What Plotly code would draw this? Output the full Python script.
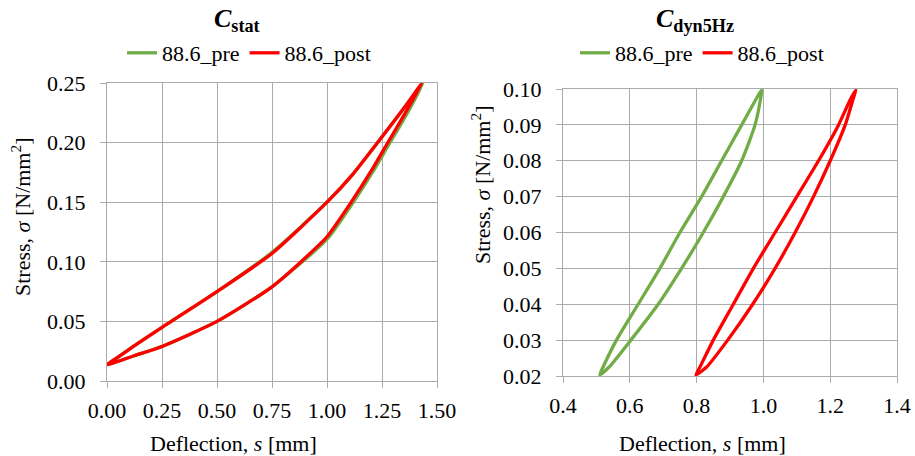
import plotly.graph_objects as go

# ---------------- data: C_stat (left panel) ----------------
stat_pre_low_s   = [0.0, 0.12, 0.25, 0.50, 0.75, 0.95, 1.01, 1.12, 1.21, 1.28, 1.36, 1.437]
stat_pre_low_sig = [0.0135, 0.021, 0.029, 0.050, 0.079, 0.110, 0.121, 0.150, 0.176, 0.198, 0.223, 0.250]
stat_pre_up_s    = [1.437, 1.35, 1.23, 1.12, 1.00, 0.75, 0.50, 0.25, 0.12, 0.05, 0.0]
stat_pre_up_sig  = [0.250, 0.229, 0.200, 0.174, 0.150, 0.108, 0.075, 0.045, 0.029, 0.020, 0.0135]
stat_post_low_s   = [0.0, 0.12, 0.25, 0.50, 0.75, 0.94, 1.00, 1.11, 1.20, 1.27, 1.35, 1.432]
stat_post_low_sig = [0.0135, 0.021, 0.029, 0.050, 0.079, 0.110, 0.121, 0.150, 0.176, 0.198, 0.223, 0.250]
stat_post_up_s    = [1.432, 1.35, 1.23, 1.12, 1.00, 0.75, 0.50, 0.25, 0.12, 0.05, 0.0]
stat_post_up_sig  = [0.250, 0.229, 0.200, 0.174, 0.150, 0.107, 0.075, 0.045, 0.029, 0.020, 0.0135]

# ---------------- data: C_dyn5Hz (right panel) ----------------
dyn_pre_right_s   = [0.51, 0.538, 0.603, 0.685, 0.755, 0.82, 0.88, 0.935, 0.975, 0.991, 0.995]
dyn_pre_right_sig = [0.0203, 0.0225, 0.03, 0.04, 0.05, 0.06, 0.07, 0.08, 0.09, 0.097, 0.0998]
dyn_pre_left_s    = [0.995, 0.977, 0.935, 0.875, 0.815, 0.75, 0.69, 0.625, 0.56, 0.52, 0.51]
dyn_pre_left_sig  = [0.0998, 0.097, 0.09, 0.08, 0.07, 0.06, 0.05, 0.04, 0.03, 0.0225, 0.0203]
dyn_post_right_s   = [0.798, 0.83, 0.893, 0.968, 1.035, 1.095, 1.15, 1.20, 1.245, 1.268, 1.277]
dyn_post_right_sig = [0.0203, 0.0225, 0.03, 0.04, 0.05, 0.06, 0.07, 0.08, 0.09, 0.097, 0.0998]
dyn_post_left_s    = [1.277, 1.26, 1.225, 1.165, 1.10, 1.035, 0.97, 0.91, 0.85, 0.81, 0.798]
dyn_post_left_sig  = [0.0998, 0.097, 0.09, 0.08, 0.07, 0.06, 0.05, 0.04, 0.03, 0.0225, 0.0203]

series_names = ["88.6_pre", "88.6_post"]
stat_x_ticks = [0.0, 0.25, 0.5, 0.75, 1.0, 1.25, 1.5]
dyn_x_ticks = [0.4, 0.6, 0.8, 1.0, 1.2, 1.4]

GREEN = "#70AD47"
RED = "#FF0000"
FONT = "Liberation Serif"
GRID = "#ABABAB"
W, H = 915, 456

fig = go.Figure()

def loop(s1, y1, s2, y2):
    return s1 + s2[1:], y1 + y2[1:]

LINE = dict(width=3.3, shape="spline", smoothing=0.6)

x, y = loop(stat_pre_low_s, stat_pre_low_sig, stat_pre_up_s, stat_pre_up_sig)
fig.add_trace(go.Scatter(x=x, y=y, mode="lines", name=series_names[0], xaxis="x", yaxis="y",
                         line=dict(color=GREEN, **LINE), legend="legend"))
x, y = loop(stat_post_low_s, stat_post_low_sig, stat_post_up_s, stat_post_up_sig)
fig.add_trace(go.Scatter(x=x, y=y, mode="lines", name=series_names[1], xaxis="x", yaxis="y",
                         line=dict(color=RED, **LINE), legend="legend"))
x, y = loop(dyn_pre_right_s, dyn_pre_right_sig, dyn_pre_left_s, dyn_pre_left_sig)
fig.add_trace(go.Scatter(x=x, y=y, mode="lines", name=series_names[0], xaxis="x2", yaxis="y2",
                         line=dict(color=GREEN, **LINE), legend="legend2"))
x, y = loop(dyn_post_right_s, dyn_post_right_sig, dyn_post_left_s, dyn_post_left_sig)
fig.add_trace(go.Scatter(x=x, y=y, mode="lines", name=series_names[1], xaxis="x2", yaxis="y2",
                         line=dict(color=RED, **LINE), legend="legend2"))

axis_common = dict(showgrid=True, gridcolor=GRID, gridwidth=1, showline=True, linecolor=GRID,
                   linewidth=1, mirror=True, ticks="outside", ticklen=6, tickcolor=GRID,
                   zeroline=False, tickfont=dict(family=FONT, size=22, color="black"))

fig.update_layout(
    width=W, height=H, template="none",
    margin=dict(l=0, r=0, t=0, b=0),
    paper_bgcolor="white", plot_bgcolor="white",
    font=dict(family=FONT, color="black"),
    xaxis=dict(domain=[107 / W, 437 / W], anchor="y", range=[0, 1.5], tickvals=stat_x_ticks,
               tickformat=".2f", ticklabelstandoff=4, **axis_common),
    yaxis=dict(domain=[1 - 381 / H, 1 - 83 / H], anchor="x", range=[0, 0.25], dtick=0.05, tick0=0,
               tickformat=".2f", ticklabelstandoff=10, **axis_common),
    xaxis2=dict(domain=[563 / W, 897 / W], anchor="y2", range=[0.4, 1.4], tickvals=dyn_x_ticks,
                tickformat=".1f", ticklabelstandoff=4, **axis_common),
    yaxis2=dict(domain=[1 - 376 / H, 1 - 89 / H], anchor="x2", range=[0.02, 0.10], dtick=0.01, tick0=0.02,
                tickformat=".2f", ticklabelstandoff=10, **axis_common),
    legend=dict(x=249 / W, y=1 - 53 / H, xanchor="center", yanchor="middle", orientation="h",
                font=dict(family=FONT, size=22, color="black"), bgcolor="rgba(0,0,0,0)"),
    legend2=dict(x=702 / W, y=1 - 53 / H, xanchor="center", yanchor="middle", orientation="h",
                 font=dict(family=FONT, size=22, color="black"), bgcolor="rgba(0,0,0,0)"),
    showlegend=True,
)

ann = []
ann.append(dict(text="<b><i>C</i><sub>stat</sub></b>", x=237 / W, y=1 - 20 / H, xref="paper", yref="paper",
                showarrow=False, font=dict(family=FONT, size=26), xanchor="center", yanchor="middle"))
ann.append(dict(text="<b><i>C</i><sub>dyn5Hz</sub></b>", x=695 / W, y=1 - 20 / H, xref="paper", yref="paper",
                showarrow=False, font=dict(family=FONT, size=26), xanchor="center", yanchor="middle"))
for xc, yc in [(21, 217), (481, 185)]:
    ann.append(dict(text="Stress, <i>σ</i> [N/mm<sup>2</sup>]", x=xc / W, y=1 - yc / H, xref="paper",
                    yref="paper", showarrow=False, textangle=-90, font=dict(family=FONT, size=22),
                    xanchor="center", yanchor="middle"))
for xc in [234, 702]:
    ann.append(dict(text="Deflection, <i>s</i> [mm]", x=xc / W, y=1 - 443 / H, xref="paper", yref="paper",
                    showarrow=False, font=dict(family=FONT, size=22), xanchor="center", yanchor="middle"))
fig.update_layout(annotations=ann)

fig.write_html("out.html")
